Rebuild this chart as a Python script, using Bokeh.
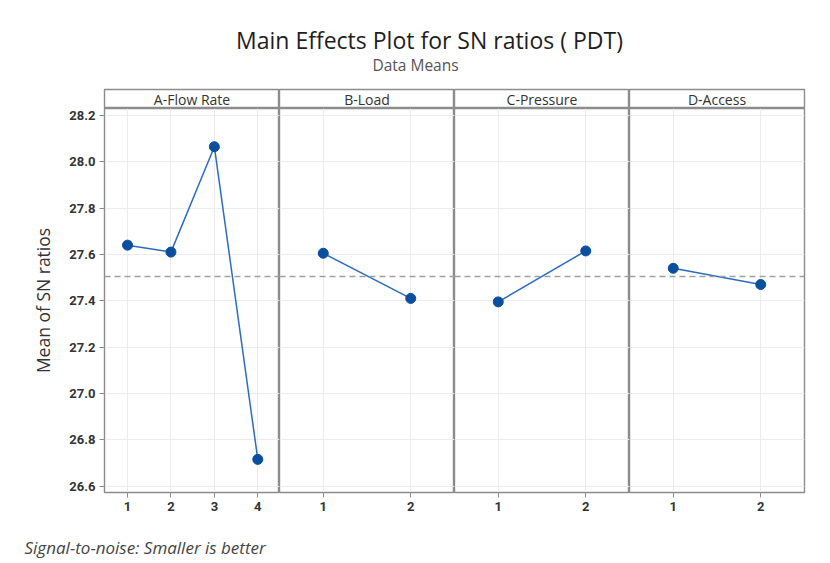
from bokeh.plotting import figure
from bokeh.layouts import row, column
from bokeh.models import Range1d, Span, Label, FixedTicker, ColumnDataSource, PrintfTickFormatter
from bokeh.embed import file_html
from bokeh.resources import INLINE
from bokeh.core.properties import value

title_text = "Main Effects Plot for SN ratios ( PDT)"
subtitle_text = "Data Means"
y_label = "Mean of SN ratios"
footer_text = "Signal-to-noise: Smaller is better"

factors = ["A-Flow Rate", "B-Load", "C-Pressure", "D-Access"]
levels_A = [1, 2, 3, 4]
means_A = [27.64, 27.61, 28.065, 26.715]
levels_B = [1, 2]
means_B = [27.605, 27.41]
levels_C = [1, 2]
means_C = [27.395, 27.615]
levels_D = [1, 2]
means_D = [27.54, 27.47]
grand_mean = 27.505
y_ticks = [26.6, 26.8, 27.0, 27.2, 27.4, 27.6, 27.8, 28.0, 28.2]

levels = [levels_A, levels_B, levels_C, levels_D]
means = [means_A, means_B, means_C, means_D]
x_ranges = [(0.47, 4.5), (0.5, 2.5), (0.5, 2.5), (0.5, 2.5)]

FONT = "Open Sans"
TICK_FONT = "Roboto"
FRAME_COL = "#8c8c8c"
GRID_COL = "#ececec"
LINE_COL = "#2b6cc0"
MARK_COL = "#0a4f9e"
TEXT_COL = "#333333"

PANEL_W = 175
LEFT = 104
FRAME_H = 384
BOTTOM = 30
TOTAL_W = 830

# Title area
tfig = figure(width=TOTAL_W, height=88, output_backend="svg", toolbar_location=None,
              x_range=Range1d(0, 1), y_range=Range1d(0, 1),
              min_border=0, x_axis_location=None, y_axis_location=None)
tfig.outline_line_color = None
tfig.grid.visible = False
tfig.add_layout(Label(x=429, y=49, x_units="screen", y_units="screen", text=title_text,
                      text_align="center", text_baseline="alphabetic",
                      text_font=FONT, text_font_size="23px", text_color="#1e1e1e"))
tfig.add_layout(Label(x=415, y=24, x_units="screen", y_units="screen", text=subtitle_text,
                      text_align="center", text_baseline="alphabetic",
                      text_font=FONT, text_font_size="15.5px", text_color="#555555"))

cols = []
for i, name in enumerate(factors):
    first = i == 0
    last = i == len(factors) - 1
    lb = LEFT if first else 0
    rb = 2 if last else 0
    w = lb + PANEL_W + rb

    # header strip
    h = figure(width=w, height=20, output_backend="svg", toolbar_location=None,
               x_range=Range1d(0, 1), y_range=Range1d(0, 1),
               min_border_left=lb, min_border_right=rb, min_border_top=1, min_border_bottom=0,
               x_axis_location=None, y_axis_location=None)
    h.grid.visible = False
    h.outline_line_color = FRAME_COL
    h.outline_line_width = 1.4
    h.text(x=[0.5], y=[0.5], text=[name], text_align="center", text_baseline="middle",
           text_font=value(FONT), text_font_size="14px", text_color=TEXT_COL)

    # panel
    p = figure(width=w, height=FRAME_H + BOTTOM, output_backend="svg", toolbar_location=None,
               x_range=Range1d(*x_ranges[i]), y_range=Range1d(26.572, 28.23),
               min_border_left=lb, min_border_right=rb, min_border_top=0, min_border_bottom=BOTTOM,
               y_axis_location="left" if first else None)
    p.outline_line_color = FRAME_COL
    p.outline_line_width = 1.4
    p.xaxis.ticker = FixedTicker(ticks=levels[i])
    p.xgrid.ticker = FixedTicker(ticks=levels[i])
    p.ygrid.ticker = FixedTicker(ticks=y_ticks)
    p.xgrid.grid_line_color = GRID_COL
    p.ygrid.grid_line_color = GRID_COL
    p.xaxis.axis_line_color = FRAME_COL
    p.xaxis.major_tick_line_color = FRAME_COL
    p.xaxis.major_tick_out = 5
    p.xaxis.major_tick_in = 0
    p.xaxis.minor_tick_line_color = None
    p.xaxis.major_label_standoff = 4
    p.xaxis.major_label_text_font = TICK_FONT
    p.xaxis.major_label_text_font_size = "13px"
    p.xaxis.major_label_text_font_style = "bold"
    p.xaxis.major_label_text_color = TEXT_COL
    if first:
        p.yaxis.ticker = FixedTicker(ticks=y_ticks)
        p.yaxis.formatter = PrintfTickFormatter(format="%.1f")
        p.yaxis.axis_line_color = FRAME_COL
        p.yaxis.major_tick_line_color = FRAME_COL
        p.yaxis.major_tick_out = 5
        p.yaxis.major_tick_in = 0
        p.yaxis.minor_tick_line_color = None
        p.yaxis.major_label_standoff = 4
        p.yaxis.major_label_text_font = TICK_FONT
        p.yaxis.major_label_text_font_size = "13px"
        p.yaxis.major_label_text_font_style = "bold"
        p.yaxis.major_label_text_color = TEXT_COL
        p.yaxis.axis_label = y_label
        p.yaxis.axis_label_text_font = FONT
        p.yaxis.axis_label_text_font_size = "17.5px"
        p.yaxis.axis_label_text_font_style = "normal"
        p.yaxis.axis_label_text_color = TEXT_COL
        p.yaxis.axis_label_standoff = 11

    p.add_layout(Span(location=grand_mean, dimension="width", line_color="#a0a0a0",
                      line_width=1.5, line_dash="6 4"))
    src = ColumnDataSource(dict(x=levels[i], y=means[i]))
    p.line("x", "y", source=src, line_color=LINE_COL, line_width=1.5)
    p.scatter("x", "y", source=src, size=10, fill_color=MARK_COL, line_color=MARK_COL)

    cols.append(column(h, p, spacing=0))

ffig = figure(width=TOTAL_W, height=41, output_backend="svg", toolbar_location=None,
              x_range=Range1d(0, 1), y_range=Range1d(0, 1),
              min_border=0, x_axis_location=None, y_axis_location=None)
ffig.outline_line_color = None
ffig.grid.visible = False
ffig.add_layout(Label(x=24, y=16, x_units="screen", y_units="screen", text=footer_text,
                      text_align="left", text_baseline="alphabetic",
                      text_font=FONT, text_font_size="17px", text_font_style="italic",
                      text_color="#444444"))

layout = column(tfig, row(*cols, spacing=0), ffig, spacing=0)

open("out.html", "w").write(file_html(layout, INLINE))
